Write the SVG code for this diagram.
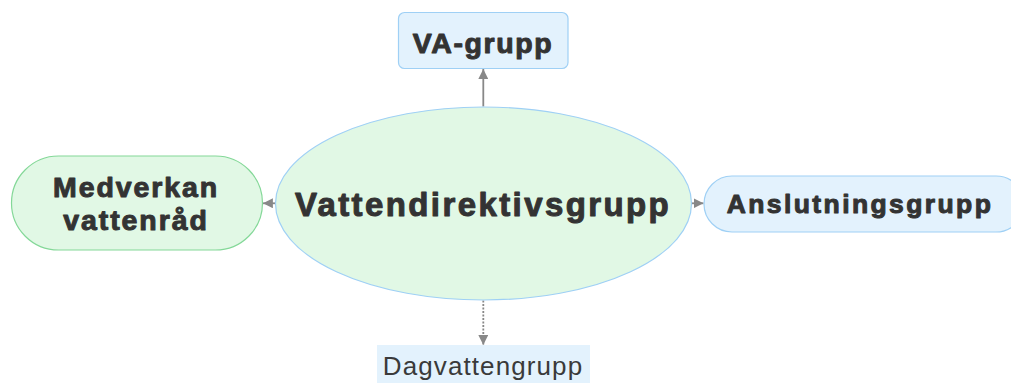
<svg xmlns="http://www.w3.org/2000/svg" width="1011" height="383" viewBox="0 0 1011 383">
<style>
.bold{font-family:"Liberation Sans",Arial,sans-serif;font-weight:bold;fill:#333;stroke:#333;stroke-width:1;stroke-linejoin:round;text-anchor:middle}
.reg{font-family:"Liberation Sans",Arial,sans-serif;fill:#3a3a3a;text-anchor:middle}
.blue{fill:#e3f2fd;stroke:#9fd0f5;stroke-width:1.2}
.green{fill:#e1f8e5;stroke:#84d898;stroke-width:1.2}
.conn{stroke:#888;stroke-width:1.8;fill:none}
</style>
<defs>
<marker id="ah" viewBox="0 0 10 10" refX="10" refY="5" markerWidth="5.5" markerHeight="5.5" markerUnits="strokeWidth" orient="auto">
<path d="M0,0 L10,5 L0,10 z" fill="#888"/>
</marker>
</defs>
<rect width="1011" height="383" fill="#fff"/>
<g id="connectors">
<line class="conn" x1="483.3" y1="106.5" x2="483.3" y2="69" marker-end="url(#ah)"/>
<line class="conn" x1="275.5" y1="203.3" x2="263" y2="203.3" marker-end="url(#ah)"/>
<line class="conn" x1="691" y1="203.3" x2="703.5" y2="203.3" marker-end="url(#ah)"/>
<line class="conn" x1="483.3" y1="300.5" x2="483.3" y2="345" stroke-dasharray="2,1.5" marker-end="url(#ah)"/>
</g>
<g id="node-center">
<ellipse cx="483.5" cy="203.5" rx="208" ry="96.5" fill="#e1f8e5" stroke="#9fd0f5" stroke-width="1.2"/>
<text class="bold" x="483" y="216" font-size="33" letter-spacing="2.4">Vattendirektivsgrupp</text>
</g>
<g id="node-va">
<rect class="blue" x="398.5" y="12.5" width="169.5" height="56" rx="6"/>
<text class="bold" x="483" y="52.7" font-size="28.5" letter-spacing="1.6">VA-grupp</text>
</g>
<g id="node-medverkan">
<rect class="green" x="11.5" y="156" width="251" height="94" rx="47"/>
<text class="bold" x="136" y="197.3" font-size="28.5" letter-spacing="1.9">Medverkan</text>
<text class="bold" x="136" y="230" font-size="28.5" letter-spacing="1.9">vattenråd</text>
</g>
<g id="node-anslutning">
<rect class="blue" x="704" y="176" width="320" height="56" rx="28"/>
<text class="bold" x="860" y="213.3" font-size="26.5" letter-spacing="2.4">Anslutningsgrupp</text>
</g>
<g id="node-dagvatten">
<rect x="377" y="345" width="213" height="45" fill="#e3f2fd"/>
<text class="reg" x="483" y="375" font-size="26" letter-spacing="1.1">Dagvattengrupp</text>
</g>
</svg>
